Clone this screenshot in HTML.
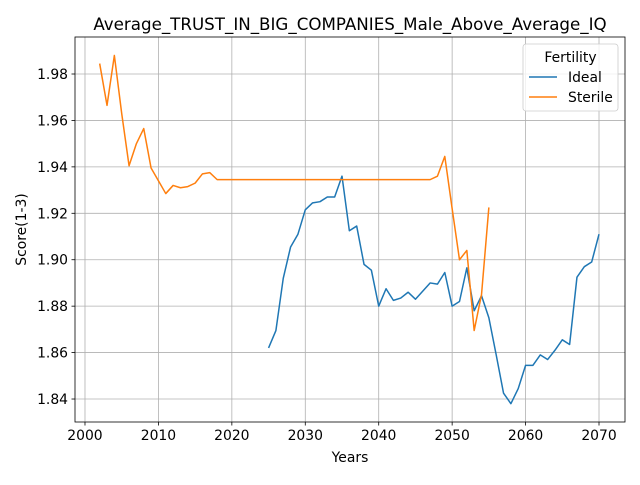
<!DOCTYPE html>
<html><head><meta charset="utf-8"><style>
body{margin:0;background:#fff;font-family:"Liberation Sans","DejaVu Sans",sans-serif}
svg text{font-family:"DejaVu Sans","Liberation Sans",sans-serif}
</style></head><body>
<svg id="chart" width="640" height="480" xmlns="http://www.w3.org/2000/svg"></svg>
<script>
const xTicks=[2000,2010,2020,2030,2040,2050,2060,2070];
const yTicks=[1.84,1.86,1.88,1.90,1.92,1.94,1.96,1.98];
const sterileYears=[2002,2003,2004,2005,2006,2007,2008,2009,2010,2011,2012,2013,2014,2015,2016,2017,2018,2019,2020,2021,2022,2023,2024,2025,2026,2027,2028,2029,2030,2031,2032,2033,2034,2035,2036,2037,2038,2039,2040,2041,2042,2043,2044,2045,2046,2047,2048,2049,2050,2051,2052,2053,2054,2055];
const sterileValues=[1.9845,1.9665,1.988,1.963,1.9405,1.950,1.9565,1.9395,1.934,1.9285,1.932,1.931,1.9315,1.933,1.937,1.9375,1.9345,1.9345,1.9345,1.9345,1.9345,1.9345,1.9345,1.9345,1.9345,1.9345,1.9345,1.9345,1.9345,1.9345,1.9345,1.9345,1.9345,1.9345,1.9345,1.9345,1.9345,1.9345,1.9345,1.9345,1.9345,1.9345,1.9345,1.9345,1.9345,1.9345,1.936,1.9445,1.922,1.900,1.904,1.8695,1.885,1.9225];
const idealYears=[2025,2026,2027,2028,2029,2030,2031,2032,2033,2034,2035,2036,2037,2038,2039,2040,2041,2042,2043,2044,2045,2046,2047,2048,2049,2050,2051,2052,2053,2054,2055,2056,2057,2058,2059,2060,2061,2062,2063,2064,2065,2066,2067,2068,2069,2070];
const idealValues=[1.862,1.8695,1.892,1.9055,1.911,1.9215,1.9245,1.925,1.927,1.927,1.936,1.9125,1.9145,1.898,1.8955,1.880,1.8875,1.8825,1.8835,1.886,1.883,1.8865,1.890,1.8895,1.8945,1.880,1.882,1.8965,1.878,1.8845,1.875,1.859,1.8425,1.838,1.8445,1.8545,1.8545,1.859,1.857,1.861,1.8655,1.8635,1.8925,1.897,1.899,1.911];

const svg=document.getElementById('chart');
const NS='http://www.w3.org/2000/svg';
const L=75,R=625,T=37,B=422;
const x0=1998.64,x1=2073.54,y0=1.8301,y1=1.99594;
const xs=v=>L+(v-x0)/(x1-x0)*(R-L);
const ys=v=>B-(v-y0)/(y1-y0)*(B-T);
function mk(tag,attrs,parent){const e=document.createElementNS(NS,tag);for(const k in attrs)e.setAttribute(k,attrs[k]);(parent||svg).appendChild(e);return e;}
function txt(s,attrs){const e=mk('text',attrs);e.textContent=s;return e;}

const grid=mk('g',{});


xTicks.forEach(t=>{const X=xs(t);
  mk('line',{x1:X,x2:X,y1:T,y2:B,stroke:'#b0b0b0','stroke-width':0.8},grid);
  mk('line',{x1:X,x2:X,y1:B,y2:B+3.5,stroke:'#000','stroke-width':0.8});
  const l=txt(String(t),{x:X,y:B+18,'font-size':13.9,'text-anchor':'middle'});
  
  
});
yTicks.forEach(t=>{const Y=ys(t);
  mk('line',{x1:L,x2:R,y1:Y,y2:Y,stroke:'#b0b0b0','stroke-width':0.8},grid);
  mk('line',{x1:L-3.5,x2:L,y1:Y,y2:Y,stroke:'#000','stroke-width':0.8});
  const l=txt(t.toFixed(2),{x:L-7,y:Y+5,'font-size':13.9,'text-anchor':'end'});
  
  
});
function series(xv,yv,color,name){
  const p=mk('polyline',{points:xv.map((v,i)=>xs(v)+','+ys(yv[i])).join(' '),fill:'none',stroke:color,'stroke-width':1.5,'stroke-linejoin':'round'});
  
  
}
series(idealYears,idealValues,'#1f77b4','ideal-line');
series(sterileYears,sterileValues,'#ff7f0e','sterile-line');
const frame=mk('rect',{x:L,y:T,width:R-L,height:B-T,fill:'none',stroke:'#000','stroke-width':0.8});


const ti=txt('Average_TRUST_IN_BIG_COMPANIES_Male_Above_Average_IQ',{x:(L+R)/2,y:30,'font-size':16.7,'text-anchor':'middle'});


const xt=txt('Years',{x:(L+R)/2,y:462,'font-size':13.9,'text-anchor':'middle'});


const yt=txt('Score(1-3)',{x:0,y:0,'font-size':13.9,'text-anchor':'middle',transform:'translate(26,'+((T+B)/2)+') rotate(-90)'});


const lg=mk('g',{});


mk('rect',{x:523,y:44,width:95,height:67,rx:3,fill:'#fff','fill-opacity':0.8,stroke:'#ccc','stroke-width':0.8},lg);
const lt=mk('text',{x:570.5,y:62,'font-size':13.9,'text-anchor':'middle'},lg);lt.textContent='Fertility';
[['Ideal','#1f77b4',82],['Sterile','#ff7f0e',102]].forEach(([n,c,y])=>{
  const e=mk('g',{},lg);
  
  
  mk('line',{x1:529,x2:557,y1:y-5,y2:y-5,stroke:c,'stroke-width':1.5},e);
  const t=mk('text',{x:568,y:y,'font-size':13.9},e);t.textContent=n;
});
</script>
</body></html>
